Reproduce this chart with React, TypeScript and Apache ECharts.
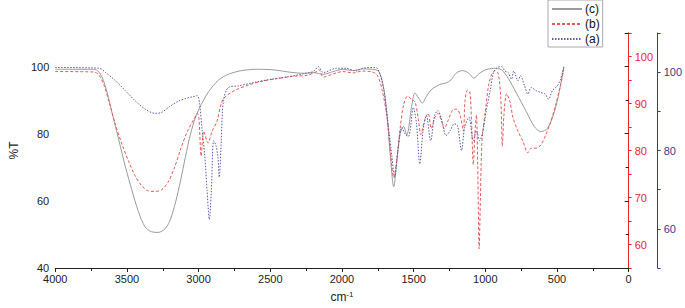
import React, { useEffect, useRef } from "react";
import * as echarts from "echarts";

// (c) gray solid — left axis (%T)
const seriesC: number[][] = [
  [4000, 99.2], [3740, 99.2], [3705, 98.8], [3671, 96.6], [3637, 92.1], [3603, 86.1], [3557, 78.2],
  [3511, 70.2], [3466, 63.3], [3420, 56.8], [3374, 52.3], [3329, 50.8], [3283, 50.6], [3238, 51.5],
  [3203, 53.8], [3169, 58.3], [3135, 64.2], [3101, 71.2], [3066, 78.2], [3032, 83.6], [2998, 87.3],
  [2964, 90.1], [2929, 92.6], [2861, 96.0], [2792, 97.7], [2701, 98.8], [2587, 99.2], [2473, 99.0],
  [2358, 98.3], [2267, 98.0], [2199, 98.2], [2130, 97.7], [2062, 98.5], [1993, 99.2], [1925, 98.8],
  [1856, 99.3], [1788, 99.2], [1742, 98.5], [1707, 93.1], [1685, 85.1], [1662, 73.2], [1639, 64.2],
  [1616, 72.2], [1594, 80.2], [1570, 82.1], [1548, 79.6], [1514, 88.1], [1491, 92.1], [1464, 90.6],
  [1440, 89.1], [1411, 91.1], [1377, 93.1], [1342, 94.1], [1308, 94.8], [1274, 95.1], [1240, 96.0],
  [1205, 98.0], [1160, 98.8], [1114, 98.0], [1080, 96.5], [1046, 97.8], [1000, 99.0], [943, 99.5],
  [886, 99.0], [840, 96.5], [783, 92.1], [714, 86.6], [658, 82.1], [612, 80.6], [566, 81.6],
  [521, 86.1], [486, 92.1], [452, 100],
];

// (b) red dashed — red right axis
const seriesB: number[][] = [
  [4000, 96.8], [3728, 96.7], [3694, 96.0], [3660, 93.9], [3625, 90.4], [3580, 85.5], [3534, 81.3],
  [3488, 77.7], [3443, 74.6], [3397, 72.5], [3351, 71.4], [3306, 71.3], [3260, 71.6], [3214, 73.2],
  [3169, 76.3], [3123, 80.5], [3078, 84.1], [3032, 86.7], [3009, 87.9], [2998, 86.9], [2982, 78.8],
  [2964, 84.1], [2934, 81.6], [2906, 84.1], [2872, 86.2], [2842, 90.0], [2815, 91.4], [2747, 92.8],
  [2655, 93.9], [2564, 94.7], [2450, 95.3], [2336, 95.8], [2244, 96.0], [2176, 96.8], [2160, 97.2],
  [2130, 95.6], [2062, 96.3], [1993, 96.8], [1925, 96.5], [1856, 96.9], [1788, 96.7], [1753, 96.0],
  [1719, 92.8], [1685, 86.9], [1662, 79.8], [1639, 74.2], [1616, 78.4], [1594, 84.7], [1570, 89.7],
  [1541, 91.6], [1514, 90.8], [1491, 90.4], [1468, 86.9], [1450, 83.4], [1423, 86.5], [1399, 87.9],
  [1377, 84.7], [1354, 86.9], [1331, 87.9], [1308, 86.5], [1286, 84.7], [1258, 86.5], [1228, 88.6],
  [1199, 88.8], [1176, 87.6], [1153, 84.1], [1142, 90.4], [1126, 92.8], [1108, 92.5], [1096, 86.2],
  [1084, 77.0], [1073, 83.4], [1062, 87.6], [1053, 77.0], [1043, 59.1], [1034, 70.0], [1023, 82.0],
  [1000, 88.3], [977, 93.9], [954, 96.3], [931, 97.0], [909, 96.3], [892, 91.1], [881, 80.9],
  [870, 87.6], [851, 92.1], [829, 90.5], [806, 86.9], [772, 84.1], [738, 82.0], [703, 79.5],
  [680, 80.5], [646, 80.5], [612, 81.2], [577, 83.4], [543, 86.2], [509, 89.7], [475, 93.9], [452, 97.4],
];

// (a) blue dotted — blue right axis
const seriesA: number[][] = [
  [4000, 101.2], [3694, 101.0], [3648, 99.9], [3580, 97.8], [3511, 95.3], [3443, 92.7], [3374, 90.6],
  [3306, 89.5], [3260, 89.7], [3203, 91.2], [3146, 92.5], [3089, 93.3], [3043, 93.7], [3009, 94.0],
  [2993, 91.9], [2975, 85.1], [2957, 78.7], [2941, 69.8], [2925, 62.4], [2911, 69.8], [2895, 82.5],
  [2879, 81.3], [2865, 78.3], [2856, 73.2], [2842, 82.5], [2827, 92.7], [2792, 96.1], [2724, 96.5],
  [2610, 97.4], [2495, 98.2], [2381, 98.8], [2267, 99.6], [2199, 100.2], [2164, 101.4], [2130, 99.9],
  [2039, 101.0], [1970, 101.0], [1902, 100.3], [1856, 101.0], [1765, 101.2], [1738, 99.9], [1707, 95.3],
  [1678, 86.8], [1651, 78.3], [1633, 73.2], [1610, 80.0], [1582, 85.9], [1559, 84.2], [1536, 83.6],
  [1502, 91.0], [1480, 86.8], [1457, 76.6], [1434, 85.1], [1411, 88.9], [1381, 82.5], [1354, 88.9],
  [1331, 90.2], [1303, 87.6], [1274, 83.8], [1244, 85.1], [1217, 86.8], [1194, 86.4], [1166, 80.0],
  [1144, 85.9], [1114, 88.5], [1084, 82.5], [1062, 85.1], [1039, 82.5], [1016, 85.1], [993, 90.2],
  [966, 95.3], [943, 99.9], [916, 101.2], [886, 101.4], [863, 100.3], [840, 99.9], [817, 98.2],
  [801, 100.3], [772, 97.8], [755, 99.1], [726, 96.5], [703, 94.4], [680, 96.1], [646, 95.3],
  [612, 94.8], [582, 94.4], [559, 93.1], [532, 95.3], [498, 96.5], [475, 98.2], [452, 101.4],
];

const legendNames = ["(c)", "(b)", "(a)"];

const FONT = "Liberation Sans, Arial, sans-serif";
const BLACK = "#222";
const RED = "#e8262a";
const NAVY = "#3a3a8e";

export default function App() {
  const ref = useRef<HTMLDivElement>(null);
  useEffect(() => {
    document.body.style.margin = "0";
    const chart = echarts.init(ref.current!, null, { renderer: "svg" });
    chart.setOption({
      animation: false,
      textStyle: { fontFamily: FONT },
      grid: { left: 47, right: 54, top: 33, bottom: 40 },
      legend: {
        data: legendNames,
        orient: "vertical",
        left: 548,
        top: 0,
        itemWidth: 30,
        itemHeight: 8,
        itemGap: 3,
        padding: [3, 3, 2, 3],
        borderColor: "#aaa",
        borderWidth: 1,
        itemStyle: { opacity: 0, borderWidth: 0 },
        textStyle: { fontSize: 12, color: "#111", fontFamily: FONT, padding: [0, 0, 0, -2] },
      },
      xAxis: {
        type: "value",
        inverse: true,
        min: 0,
        max: 4000,
        interval: 500,
        name: "cm{sup|-1}",
        nameLocation: "middle",
        nameGap: 22,
        nameTextStyle: {
          fontSize: 12,
          color: BLACK,
          rich: { sup: { fontSize: 8, verticalAlign: "top", padding: [0, 0, 6, 0], color: BLACK } },
        },
        axisLine: { show: true, lineStyle: { color: BLACK, width: 1 } },
        axisTick: { show: true, length: 4, lineStyle: { color: BLACK } },
        minorTick: { show: true, splitNumber: 2, length: 3, lineStyle: { color: BLACK } },
        axisLabel: { fontSize: 11, color: BLACK, margin: 5, formatter: (v: number) => String(v) },
        splitLine: { show: false },
      },
      yAxis: [
        {
          type: "value",
          min: 40,
          max: 110,
          interval: 20,
          position: "left",
          name: "%T",
          nameLocation: "middle",
          nameRotate: 90,
          nameGap: 29,
          nameTextStyle: { fontSize: 12, color: BLACK },
          axisLine: { show: true, lineStyle: { color: BLACK } },
          axisTick: { show: true, length: 4, lineStyle: { color: BLACK } },
          minorTick: { show: true, splitNumber: 2, length: 3, lineStyle: { color: BLACK } },
          axisLabel: {
            fontSize: 11,
            color: BLACK,
            margin: 6,
            formatter: (v: number) => (v % 20 === 0 ? String(v) : ""),
          },
          splitLine: { show: false },
        },
        {
          type: "value",
          min: 55,
          max: 105,
          interval: 5,
          position: "right",
          offset: 0,
          axisLine: { show: true, lineStyle: { color: RED } },
          axisTick: { show: true, length: 3, lineStyle: { color: RED } },
          axisLabel: {
            fontSize: 11,
            color: RED,
            margin: 6,
            formatter: (v: number) => (v % 10 === 0 ? String(v) : ""),
          },
          splitLine: { show: false },
        },
        {
          type: "value",
          min: 50,
          max: 110,
          interval: 10,
          position: "right",
          offset: 29,
          axisLine: { show: true, lineStyle: { color: NAVY } },
          axisTick: { show: true, length: 3, lineStyle: { color: NAVY } },
          axisLabel: {
            fontSize: 11,
            color: NAVY,
            margin: 6,
            formatter: (v: number) => (v % 20 === 0 ? String(v) : ""),
          },
          splitLine: { show: false },
        },
      ],
      series: [
        {
          name: "(c)",
          type: "line",
          yAxisIndex: 0,
          data: seriesC,
          showSymbol: false,
          symbol: "none",
          smooth: 0.3,
          lineStyle: { color: "#9a9a9a", width: 1, type: "solid" },
          itemStyle: { color: "#9a9a9a" },
        },
        {
          name: "(b)",
          type: "line",
          yAxisIndex: 1,
          data: seriesB,
          showSymbol: false,
          symbol: "none",
          smooth: 0.3,
          lineStyle: { color: "#e45a5a", width: 1, type: [3, 2] },
          itemStyle: { color: "#e45a5a" },
        },
        {
          name: "(a)",
          type: "line",
          yAxisIndex: 2,
          data: seriesA,
          showSymbol: false,
          symbol: "none",
          smooth: 0.3,
          lineStyle: { color: "#5a5aa8", width: 1, type: [1.5, 1.5] },
          itemStyle: { color: "#5a5aa8" },
        },
      ],
    });
    return () => chart.dispose();
  }, []);
  return <div ref={ref} style={{ width: 685, height: 308 }} />;
}
